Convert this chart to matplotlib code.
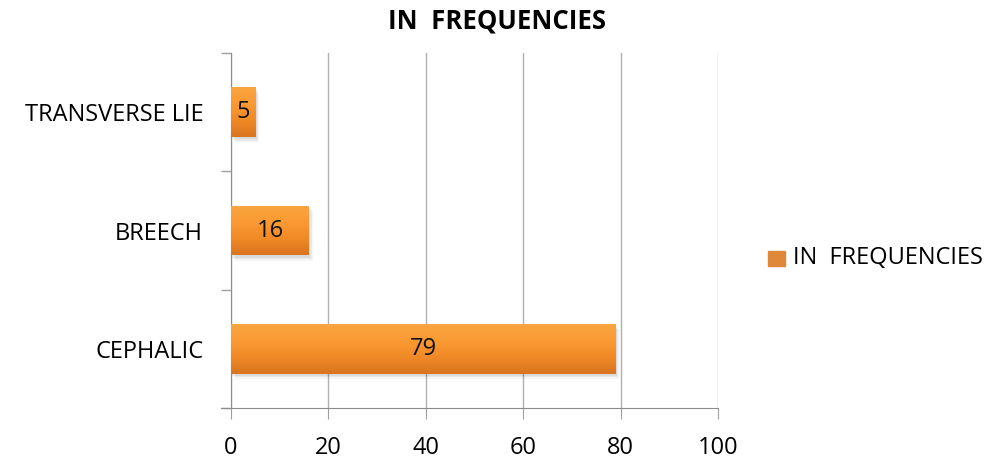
import numpy as np
import matplotlib.pyplot as plt
from matplotlib.colors import LinearSegmentedColormap
from matplotlib.patches import Rectangle

plt.rcParams['font.family'] = ['Open Sans', 'DejaVu Sans']

categories = ['CEPHALIC', 'BREECH', 'TRANSVERSE LIE']
frequencies = [79, 16, 5]
series_name = 'IN  FREQUENCIES'

orange = LinearSegmentedColormap.from_list(
    'orange', ['#d9741f', '#f08a26', '#fb9a33', '#f9a540'])

fig = plt.figure(figsize=(9.94, 4.61), dpi=100)
ax = fig.add_axes([0.2324, 0.115, 0.4899, 0.770])

pos = np.arange(len(categories))
bh = 0.42
bars = ax.barh(pos, frequencies, height=bh, color='#f39028', zorder=3)

# soft drop shadow and vertical gradient fill for each bar
grad = np.linspace(0, 1, 100).reshape(-1, 1)
for b, v in zip(bars, frequencies):
    x0, y0 = b.get_x(), b.get_y()
    w, h = b.get_width(), b.get_height()
    for k, a in enumerate([0.06, 0.05, 0.04]):
        ax.add_patch(Rectangle((x0 + 0.3 + 0.25 * k, y0 - 0.02 - 0.012 * k), w, h,
                               color='black', alpha=a, lw=0, zorder=2))
    im = ax.imshow(grad, cmap=orange, aspect='auto', origin='lower',
                   extent=(x0, x0 + w, y0, y0 + h), zorder=3.5)
    im.set_clip_path(b)
    ax.text(x0 + w / 2, y0 + h / 2, str(v), ha='center', va='center',
            fontsize=17, color='#111111', zorder=5)

ax.set_xlim(0, 100)
ax.set_ylim(-0.5, 2.5)
ax.set_xticks(range(0, 101, 20))
ax.set_yticks(pos)
ax.set_yticklabels(categories)
ax.set_yticks([-0.5, 0.5, 1.5, 2.5], minor=True)
ax.tick_params(axis='y', which='major', length=0, pad=20, labelsize=17)
ax.tick_params(axis='y', which='minor', length=7, color='#a0a0a0', width=1)
ax.tick_params(axis='x', length=8, color='#a0a0a0', pad=12, labelsize=17)
ax.grid(axis='x', color='#b0b0b0', lw=1, zorder=0)
for s in ['top', 'right']:
    ax.spines[s].set_visible(False)
for s in ['left', 'bottom']:
    ax.spines[s].set_color('#8c8c8c')
ax.spines['bottom'].set_bounds(-2, 100)

fig.text(0.5, 0.955, series_name, ha='center', va='center',
         fontsize=18.5, fontweight='bold')

# legend entry
lx, ly = 0.773, 0.440
fig.patches.append(Rectangle((lx, ly - 0.016), 0.017, 0.032, transform=fig.transFigure,
                             color='#e0883a', figure=fig))
fig.text(lx + 0.025, ly, series_name, ha='left', va='center', fontsize=17)

fig.savefig('out.png', dpi=100)
